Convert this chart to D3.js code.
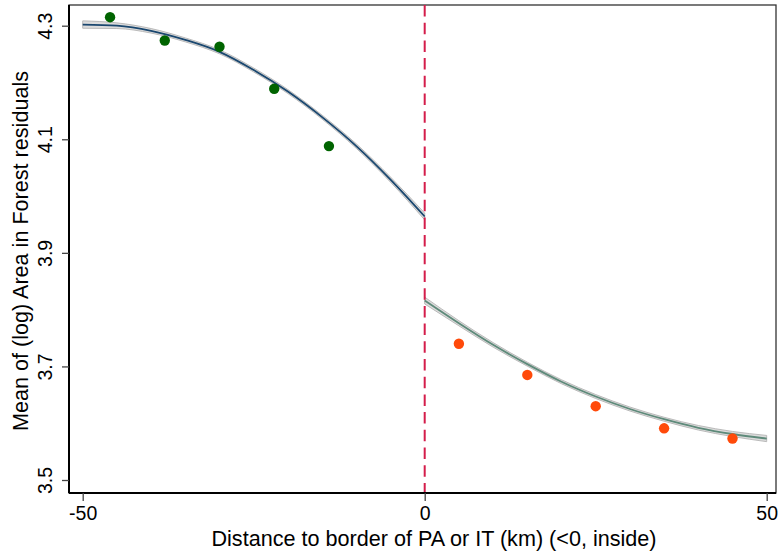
<!DOCTYPE html>
<html>
<head>
<meta charset="utf-8">
<script src="https://cdn.jsdelivr.net/npm/d3@7"></script>
<style>
  html, body { margin: 0; padding: 0; background: #fff; }
  svg { display: block; font-family: "Liberation Sans", Arial, sans-serif; }
</style>
</head>
<body>
<svg id="chart" width="780" height="551"></svg>
<script>
// Binned means of (log) forest-area residuals by distance to the border
const insideDist  = [-46, -38, -30, -22, -14];
const insideMean  = [4.315, 4.274, 4.263, 4.189, 4.088];
const outsideDist = [5, 15, 25, 35, 45];
const outsideMean = [3.740, 3.685, 3.630, 3.591, 3.573];

// Fitted polynomial on each side of the cutoff, with its confidence half-width
const fitInsideX  = [-50, -45, -40, -35, -30, -25, -20, -15, -10, -5, 0];
const fitInsideY  = [4.302, 4.300, 4.291, 4.275, 4.254, 4.222, 4.184, 4.139, 4.088, 4.029, 3.964];
const fitInsideCI = [0.0065, 0.005, 0.004, 0.0035, 0.0035, 0.0035, 0.0035, 0.0035, 0.004, 0.0045, 0.006];
const fitOutsideX  = [0, 5, 10, 15, 20, 25, 30, 35, 40, 45, 50];
const fitOutsideY  = [3.816, 3.776, 3.738, 3.704, 3.673, 3.647, 3.625, 3.607, 3.592, 3.581, 3.573];
const fitOutsideCI = [0.006, 0.0045, 0.004, 0.0035, 0.0035, 0.0035, 0.0035, 0.0035, 0.004, 0.0045, 0.0055];

const xTicks = [-50, 0, 50];
const yTicks = [3.5, 3.7, 3.9, 4.1, 4.3];
const cutoff = 0;

const svg = d3.select("#chart");
const plot = { left: 69, right: 776, top: 5, bottom: 493 };

const x = d3.scaleLinear().domain([-50, 50]).range([82.7, 766.7]);
const y = d3.scaleLinear().domain([3.5, 4.3]).range([480, 25.7]);

// plot region outline
svg.append("rect")
  .attr("x", plot.left).attr("y", plot.top)
  .attr("width", plot.right - plot.left).attr("height", plot.bottom - plot.top)
  .attr("fill", "none").attr("stroke", "#333").attr("stroke-width", 1.3);

// confidence bands and fitted lines
function drawFit(xs, ys, ci, color) {
  const rows = xs.map((d, i) => ({ x: d, y: ys[i], h: ci[i] }));
  const area = d3.area()
    .x(d => x(d.x)).y0(d => y(d.y - d.h)).y1(d => y(d.y + d.h))
    .curve(d3.curveMonotoneX);
  svg.append("path").datum(rows).attr("d", area)
    .attr("fill", "#dcdcdc").attr("stroke", "#b4b4b4").attr("stroke-width", 0.9);
  const line = d3.line().x(d => x(d.x)).y(d => y(d.y)).curve(d3.curveMonotoneX);
  svg.append("path").datum(rows).attr("d", line)
    .attr("fill", "none").attr("stroke", color).attr("stroke-width", 1.8);
}
drawFit(fitInsideX, fitInsideY, fitInsideCI, "#1a476f");
drawFit(fitOutsideX, fitOutsideY, fitOutsideCI, "#5e8a7a");

// cutoff line
svg.append("line")
  .attr("x1", x(cutoff)).attr("x2", x(cutoff))
  .attr("y1", plot.top).attr("y2", plot.bottom)
  .attr("stroke", "#d41d4b").attr("stroke-width", 2)
  .attr("stroke-dasharray", "11.5,6.2");

// binned means
svg.append("g").selectAll("circle")
  .data(insideDist.map((d, i) => [d, insideMean[i]]))
  .join("circle")
  .attr("cx", d => x(d[0])).attr("cy", d => y(d[1])).attr("r", 5.2)
  .attr("fill", "#006400");
svg.append("g").selectAll("circle")
  .data(outsideDist.map((d, i) => [d, outsideMean[i]]))
  .join("circle")
  .attr("cx", d => x(d[0])).attr("cy", d => y(d[1])).attr("r", 5.2)
  .attr("fill", "#ff4a0a");

// axes
const xAxis = svg.append("g").attr("transform", `translate(0,${plot.bottom})`)
  .call(d3.axisBottom(x).tickValues(xTicks).tickSize(8).tickFormat(d3.format("d")));
xAxis.select(".domain").attr("d", `M${plot.left},0H${plot.right}`).attr("stroke", "#000").attr("stroke-width", 2);
xAxis.selectAll(".tick line").attr("stroke", "#444").attr("stroke-width", 1.3);
xAxis.selectAll(".tick text").attr("font-size", 19.5).attr("fill", "#000")
  .attr("font-family", "Liberation Sans, Arial, sans-serif")
  .attr("y", 27).attr("dy", null)
  .text(d => d < 0 ? "-" + Math.abs(d) : d);

const yAxis = svg.append("g").attr("transform", `translate(${plot.left},0)`)
  .call(d3.axisLeft(y).tickValues(yTicks).tickSize(7).tickPadding(0).tickFormat(d3.format(".1f")));
yAxis.select(".domain").attr("d", `M0,${plot.top}V${plot.bottom}`).attr("stroke", "#000").attr("stroke-width", 2);
yAxis.selectAll(".tick line").attr("stroke", "#444").attr("stroke-width", 1.3);
yAxis.selectAll(".tick text")
  .attr("font-size", 19.5).attr("fill", "#000")
  .attr("font-family", "Liberation Sans, Arial, sans-serif")
  .attr("x", null).attr("dy", null)
  .attr("text-anchor", "middle")
  .attr("transform", "translate(-17,0) rotate(-90)");

// axis titles
svg.append("text")
  .attr("x", 434).attr("y", 546)
  .attr("text-anchor", "middle").attr("font-size", 21.6).attr("fill", "#000")
  .text("Distance to border of PA or IT (km) (<0, inside)");
svg.append("text")
  .attr("transform", "translate(28.3,251) rotate(-90)")
  .attr("text-anchor", "middle").attr("font-size", 21.6).attr("fill", "#000")
  .text("Mean of (log) Area in Forest residuals");
</script>
</body>
</html>
